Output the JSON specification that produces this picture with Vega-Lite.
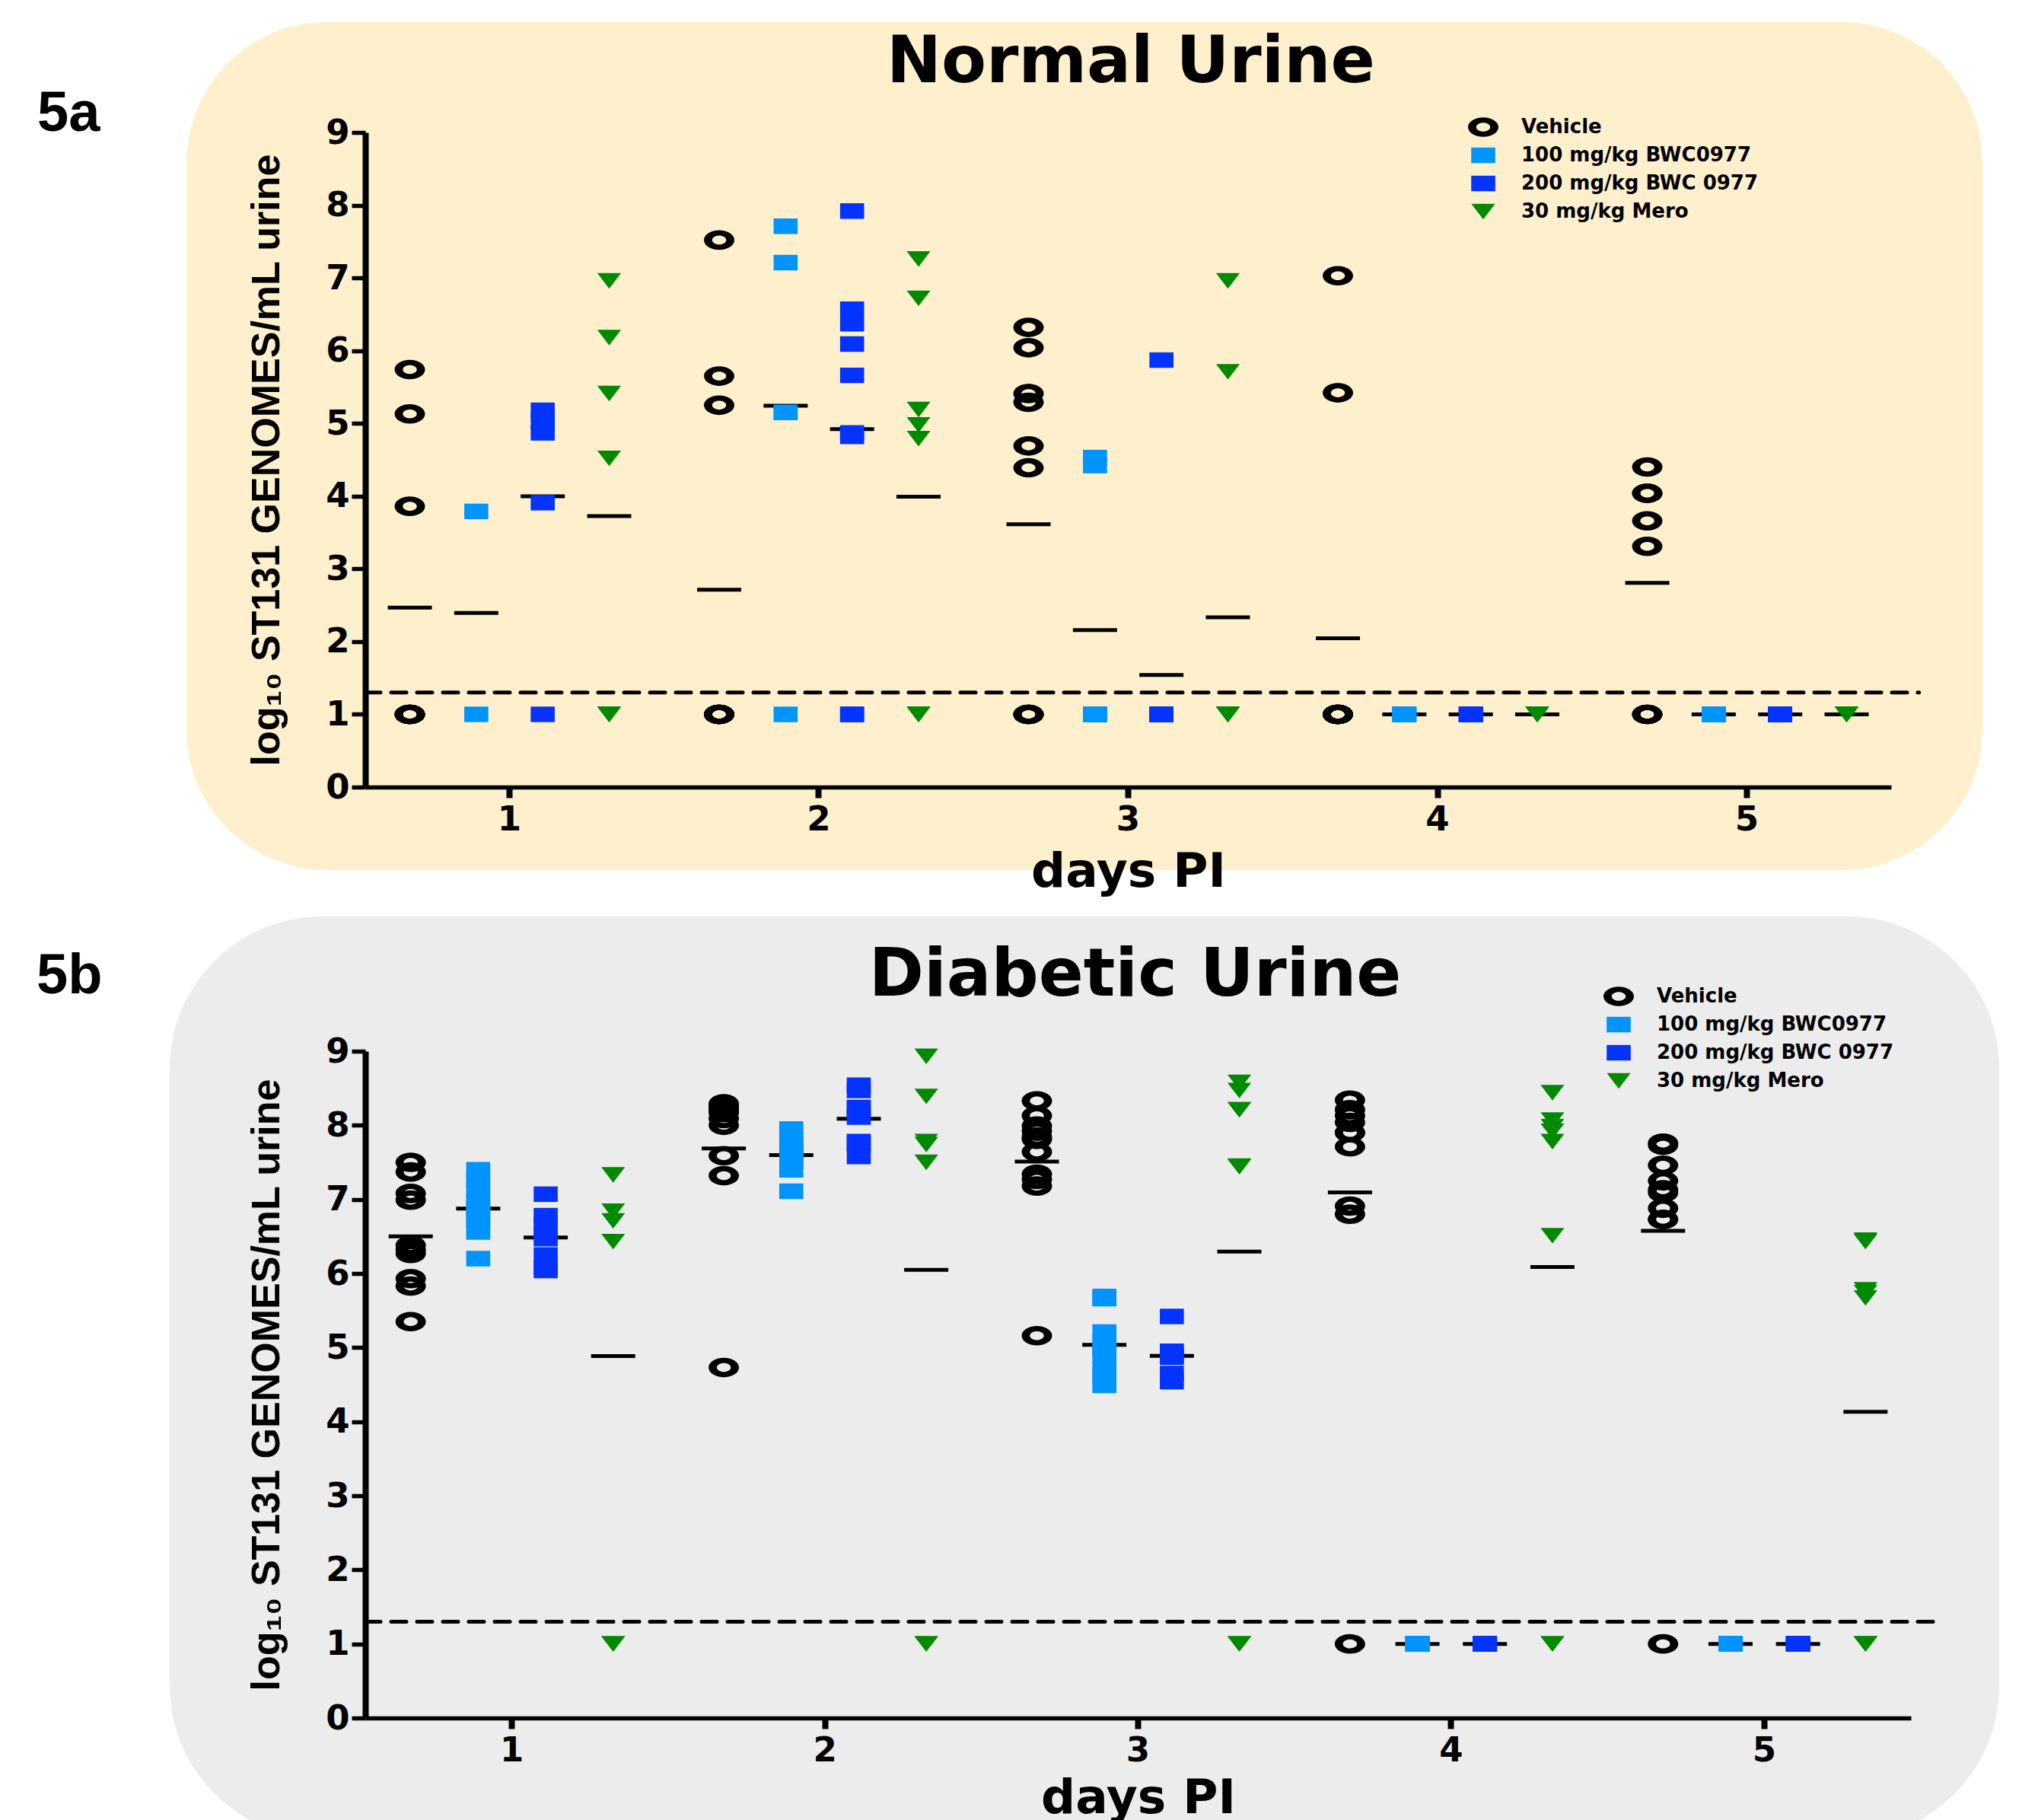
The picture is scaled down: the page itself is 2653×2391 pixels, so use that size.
{
  "$schema": "https://vega.github.io/schema/vega-lite/v6.json",
  "background": "white",
  "padding": {"left": 48, "top": 29, "right": 0, "bottom": 0},
  "bounds": "flush",
  "spacing": 347,
  "resolve": {
    "scale": {"x": "independent", "y": "independent", "xOffset": "independent"},
    "legend": {"color": "independent", "shape": "independent"}
  },
  "config": {
    "view": {"stroke": null},
    "font": "DejaVu Sans",
    "axis": {"domainColor": "black", "tickColor": "black", "labelColor": "black", "titleColor": "black", "labelFont": "DejaVu Sans", "labelFontSize": 45, "labelFontWeight": "bold", "grid": false, "labelOverlap": false, "labelFlush": false, "labelAngle": 0},
    "axisX": {"domainWidth": 5.5, "tickWidth": 8, "tickSize": 14, "labelPadding": 6, "titleFont": "DejaVu Sans", "titleFontSize": 63, "titleFontWeight": "bold", "titlePadding": 15},
    "axisY": {"domainWidth": 8, "tickWidth": 5.5, "tickSize": 18, "labelPadding": 3, "titleFont": "Liberation Sans", "titleFontSize": 52, "titleFontWeight": "bold", "titlePadding": 50},
    "legend": {"labelFont": "DejaVu Sans", "labelFontSize": 26, "labelFontWeight": "bold", "labelColor": "black", "symbolSize": 1600, "symbolStrokeWidth": 0, "rowPadding": 4, "labelOffset": 30, "labelLimit": 0, "zindex": 1}
  },
  "datasets": {
    "a": [
      {"day": 1, "group": "Vehicle", "v": 5.74}, {"day": 1, "group": "Vehicle", "v": 5.13}, {"day": 1, "group": "Vehicle", "v": 3.86}, {"day": 1, "group": "Vehicle", "v": 1}, {"day": 1, "group": "Vehicle", "v": 1}, {"day": 1, "group": "Vehicle", "v": 1}, {"day": 1, "group": "Vehicle", "v": 1}, {"day": 1, "group": "Vehicle", "v": 1},
      {"day": 1, "group": "100 mg/kg BWC0977", "v": 3.79}, {"day": 1, "group": "100 mg/kg BWC0977", "v": 1},
      {"day": 1, "group": "200 mg/kg BWC 0977", "v": 5.18}, {"day": 1, "group": "200 mg/kg BWC 0977", "v": 5.03}, {"day": 1, "group": "200 mg/kg BWC 0977", "v": 4.87}, {"day": 1, "group": "200 mg/kg BWC 0977", "v": 3.91}, {"day": 1, "group": "200 mg/kg BWC 0977", "v": 1},
      {"day": 1, "group": "30 mg/kg Mero", "v": 6.96}, {"day": 1, "group": "30 mg/kg Mero", "v": 6.18}, {"day": 1, "group": "30 mg/kg Mero", "v": 5.41}, {"day": 1, "group": "30 mg/kg Mero", "v": 4.52}, {"day": 1, "group": "30 mg/kg Mero", "v": 1}, {"day": 1, "group": "30 mg/kg Mero", "v": 1}, {"day": 1, "group": "30 mg/kg Mero", "v": 1},
      {"day": 2, "group": "Vehicle", "v": 7.52}, {"day": 2, "group": "Vehicle", "v": 5.65}, {"day": 2, "group": "Vehicle", "v": 5.25}, {"day": 2, "group": "Vehicle", "v": 1}, {"day": 2, "group": "Vehicle", "v": 1}, {"day": 2, "group": "Vehicle", "v": 1}, {"day": 2, "group": "Vehicle", "v": 1}, {"day": 2, "group": "Vehicle", "v": 1}, {"day": 2, "group": "Vehicle", "v": 1},
      {"day": 2, "group": "100 mg/kg BWC0977", "v": 7.71}, {"day": 2, "group": "100 mg/kg BWC0977", "v": 7.21}, {"day": 2, "group": "100 mg/kg BWC0977", "v": 5.15}, {"day": 2, "group": "100 mg/kg BWC0977", "v": 5.15}, {"day": 2, "group": "100 mg/kg BWC0977", "v": 1},
      {"day": 2, "group": "200 mg/kg BWC 0977", "v": 7.92}, {"day": 2, "group": "200 mg/kg BWC 0977", "v": 6.57}, {"day": 2, "group": "200 mg/kg BWC 0977", "v": 6.37}, {"day": 2, "group": "200 mg/kg BWC 0977", "v": 6.09}, {"day": 2, "group": "200 mg/kg BWC 0977", "v": 5.66}, {"day": 2, "group": "200 mg/kg BWC 0977", "v": 4.87}, {"day": 2, "group": "200 mg/kg BWC 0977", "v": 4.82}, {"day": 2, "group": "200 mg/kg BWC 0977", "v": 1}, {"day": 2, "group": "200 mg/kg BWC 0977", "v": 1},
      {"day": 2, "group": "30 mg/kg Mero", "v": 7.26}, {"day": 2, "group": "30 mg/kg Mero", "v": 6.72}, {"day": 2, "group": "30 mg/kg Mero", "v": 5.19}, {"day": 2, "group": "30 mg/kg Mero", "v": 4.98}, {"day": 2, "group": "30 mg/kg Mero", "v": 4.79}, {"day": 2, "group": "30 mg/kg Mero", "v": 1}, {"day": 2, "group": "30 mg/kg Mero", "v": 1}, {"day": 2, "group": "30 mg/kg Mero", "v": 1},
      {"day": 3, "group": "Vehicle", "v": 6.32}, {"day": 3, "group": "Vehicle", "v": 6.04}, {"day": 3, "group": "Vehicle", "v": 5.41}, {"day": 3, "group": "Vehicle", "v": 5.29}, {"day": 3, "group": "Vehicle", "v": 4.69}, {"day": 3, "group": "Vehicle", "v": 4.39}, {"day": 3, "group": "Vehicle", "v": 1}, {"day": 3, "group": "Vehicle", "v": 1}, {"day": 3, "group": "Vehicle", "v": 1}, {"day": 3, "group": "Vehicle", "v": 1},
      {"day": 3, "group": "100 mg/kg BWC0977", "v": 4.53}, {"day": 3, "group": "100 mg/kg BWC0977", "v": 4.42}, {"day": 3, "group": "100 mg/kg BWC0977", "v": 1}, {"day": 3, "group": "100 mg/kg BWC0977", "v": 1}, {"day": 3, "group": "100 mg/kg BWC0977", "v": 1}, {"day": 3, "group": "100 mg/kg BWC0977", "v": 1},
      {"day": 3, "group": "200 mg/kg BWC 0977", "v": 5.87}, {"day": 3, "group": "200 mg/kg BWC 0977", "v": 1}, {"day": 3, "group": "200 mg/kg BWC 0977", "v": 1}, {"day": 3, "group": "200 mg/kg BWC 0977", "v": 1}, {"day": 3, "group": "200 mg/kg BWC 0977", "v": 1}, {"day": 3, "group": "200 mg/kg BWC 0977", "v": 1}, {"day": 3, "group": "200 mg/kg BWC 0977", "v": 1}, {"day": 3, "group": "200 mg/kg BWC 0977", "v": 1}, {"day": 3, "group": "200 mg/kg BWC 0977", "v": 1},
      {"day": 3, "group": "30 mg/kg Mero", "v": 6.96}, {"day": 3, "group": "30 mg/kg Mero", "v": 5.71}, {"day": 3, "group": "30 mg/kg Mero", "v": 1}, {"day": 3, "group": "30 mg/kg Mero", "v": 1}, {"day": 3, "group": "30 mg/kg Mero", "v": 1}, {"day": 3, "group": "30 mg/kg Mero", "v": 1}, {"day": 3, "group": "30 mg/kg Mero", "v": 1}, {"day": 3, "group": "30 mg/kg Mero", "v": 1},
      {"day": 4, "group": "Vehicle", "v": 7.03}, {"day": 4, "group": "Vehicle", "v": 5.42}, {"day": 4, "group": "Vehicle", "v": 1}, {"day": 4, "group": "Vehicle", "v": 1}, {"day": 4, "group": "Vehicle", "v": 1}, {"day": 4, "group": "Vehicle", "v": 1}, {"day": 4, "group": "Vehicle", "v": 1}, {"day": 4, "group": "Vehicle", "v": 1}, {"day": 4, "group": "Vehicle", "v": 1}, {"day": 4, "group": "Vehicle", "v": 1},
      {"day": 4, "group": "100 mg/kg BWC0977", "v": 1}, {"day": 4, "group": "100 mg/kg BWC0977", "v": 1}, {"day": 4, "group": "100 mg/kg BWC0977", "v": 1}, {"day": 4, "group": "100 mg/kg BWC0977", "v": 1}, {"day": 4, "group": "100 mg/kg BWC0977", "v": 1},
      {"day": 4, "group": "200 mg/kg BWC 0977", "v": 1}, {"day": 4, "group": "200 mg/kg BWC 0977", "v": 1}, {"day": 4, "group": "200 mg/kg BWC 0977", "v": 1}, {"day": 4, "group": "200 mg/kg BWC 0977", "v": 1}, {"day": 4, "group": "200 mg/kg BWC 0977", "v": 1},
      {"day": 4, "group": "30 mg/kg Mero", "v": 1}, {"day": 4, "group": "30 mg/kg Mero", "v": 1}, {"day": 4, "group": "30 mg/kg Mero", "v": 1}, {"day": 4, "group": "30 mg/kg Mero", "v": 1}, {"day": 4, "group": "30 mg/kg Mero", "v": 1},
      {"day": 5, "group": "Vehicle", "v": 4.40}, {"day": 5, "group": "Vehicle", "v": 4.04}, {"day": 5, "group": "Vehicle", "v": 4.04}, {"day": 5, "group": "Vehicle", "v": 3.66}, {"day": 5, "group": "Vehicle", "v": 3.31}, {"day": 5, "group": "Vehicle", "v": 1}, {"day": 5, "group": "Vehicle", "v": 1}, {"day": 5, "group": "Vehicle", "v": 1},
      {"day": 5, "group": "100 mg/kg BWC0977", "v": 1}, {"day": 5, "group": "100 mg/kg BWC0977", "v": 1}, {"day": 5, "group": "100 mg/kg BWC0977", "v": 1}, {"day": 5, "group": "100 mg/kg BWC0977", "v": 1}, {"day": 5, "group": "100 mg/kg BWC0977", "v": 1},
      {"day": 5, "group": "200 mg/kg BWC 0977", "v": 1}, {"day": 5, "group": "200 mg/kg BWC 0977", "v": 1}, {"day": 5, "group": "200 mg/kg BWC 0977", "v": 1}, {"day": 5, "group": "200 mg/kg BWC 0977", "v": 1}, {"day": 5, "group": "200 mg/kg BWC 0977", "v": 1},
      {"day": 5, "group": "30 mg/kg Mero", "v": 1}, {"day": 5, "group": "30 mg/kg Mero", "v": 1}, {"day": 5, "group": "30 mg/kg Mero", "v": 1}, {"day": 5, "group": "30 mg/kg Mero", "v": 1}, {"day": 5, "group": "30 mg/kg Mero", "v": 1}
    ],
    "b": [
      {"day": 1, "group": "Vehicle", "v": 7.50}, {"day": 1, "group": "Vehicle", "v": 7.37}, {"day": 1, "group": "Vehicle", "v": 7.08}, {"day": 1, "group": "Vehicle", "v": 6.99}, {"day": 1, "group": "Vehicle", "v": 6.38}, {"day": 1, "group": "Vehicle", "v": 6.32}, {"day": 1, "group": "Vehicle", "v": 6.27}, {"day": 1, "group": "Vehicle", "v": 5.93}, {"day": 1, "group": "Vehicle", "v": 5.83}, {"day": 1, "group": "Vehicle", "v": 5.35},
      {"day": 1, "group": "100 mg/kg BWC0977", "v": 7.40}, {"day": 1, "group": "100 mg/kg BWC0977", "v": 7.26}, {"day": 1, "group": "100 mg/kg BWC0977", "v": 7.13}, {"day": 1, "group": "100 mg/kg BWC0977", "v": 6.96}, {"day": 1, "group": "100 mg/kg BWC0977", "v": 6.89}, {"day": 1, "group": "100 mg/kg BWC0977", "v": 6.77}, {"day": 1, "group": "100 mg/kg BWC0977", "v": 6.71}, {"day": 1, "group": "100 mg/kg BWC0977", "v": 6.56}, {"day": 1, "group": "100 mg/kg BWC0977", "v": 6.20},
      {"day": 1, "group": "200 mg/kg BWC 0977", "v": 7.07}, {"day": 1, "group": "200 mg/kg BWC 0977", "v": 6.78}, {"day": 1, "group": "200 mg/kg BWC 0977", "v": 6.67}, {"day": 1, "group": "200 mg/kg BWC 0977", "v": 6.53}, {"day": 1, "group": "200 mg/kg BWC 0977", "v": 6.47}, {"day": 1, "group": "200 mg/kg BWC 0977", "v": 6.25}, {"day": 1, "group": "200 mg/kg BWC 0977", "v": 6.08}, {"day": 1, "group": "200 mg/kg BWC 0977", "v": 6.04},
      {"day": 1, "group": "30 mg/kg Mero", "v": 7.33}, {"day": 1, "group": "30 mg/kg Mero", "v": 6.84}, {"day": 1, "group": "30 mg/kg Mero", "v": 6.71}, {"day": 1, "group": "30 mg/kg Mero", "v": 6.43}, {"day": 1, "group": "30 mg/kg Mero", "v": 1}, {"day": 1, "group": "30 mg/kg Mero", "v": 1},
      {"day": 2, "group": "Vehicle", "v": 8.29}, {"day": 2, "group": "Vehicle", "v": 8.26}, {"day": 2, "group": "Vehicle", "v": 8.23}, {"day": 2, "group": "Vehicle", "v": 8.20}, {"day": 2, "group": "Vehicle", "v": 8.17}, {"day": 2, "group": "Vehicle", "v": 8.09}, {"day": 2, "group": "Vehicle", "v": 8.00}, {"day": 2, "group": "Vehicle", "v": 7.59}, {"day": 2, "group": "Vehicle", "v": 7.32}, {"day": 2, "group": "Vehicle", "v": 4.73},
      {"day": 2, "group": "100 mg/kg BWC0977", "v": 7.95}, {"day": 2, "group": "100 mg/kg BWC0977", "v": 7.80}, {"day": 2, "group": "100 mg/kg BWC0977", "v": 7.73}, {"day": 2, "group": "100 mg/kg BWC0977", "v": 7.66}, {"day": 2, "group": "100 mg/kg BWC0977", "v": 7.62}, {"day": 2, "group": "100 mg/kg BWC0977", "v": 7.51}, {"day": 2, "group": "100 mg/kg BWC0977", "v": 7.40}, {"day": 2, "group": "100 mg/kg BWC0977", "v": 7.11},
      {"day": 2, "group": "200 mg/kg BWC 0977", "v": 8.54}, {"day": 2, "group": "200 mg/kg BWC 0977", "v": 8.47}, {"day": 2, "group": "200 mg/kg BWC 0977", "v": 8.24}, {"day": 2, "group": "200 mg/kg BWC 0977", "v": 8.23}, {"day": 2, "group": "200 mg/kg BWC 0977", "v": 8.11}, {"day": 2, "group": "200 mg/kg BWC 0977", "v": 7.78}, {"day": 2, "group": "200 mg/kg BWC 0977", "v": 7.75}, {"day": 2, "group": "200 mg/kg BWC 0977", "v": 7.58},
      {"day": 2, "group": "30 mg/kg Mero", "v": 8.93}, {"day": 2, "group": "30 mg/kg Mero", "v": 8.39}, {"day": 2, "group": "30 mg/kg Mero", "v": 7.78}, {"day": 2, "group": "30 mg/kg Mero", "v": 7.74}, {"day": 2, "group": "30 mg/kg Mero", "v": 7.50}, {"day": 2, "group": "30 mg/kg Mero", "v": 1}, {"day": 2, "group": "30 mg/kg Mero", "v": 1},
      {"day": 3, "group": "Vehicle", "v": 8.33}, {"day": 3, "group": "Vehicle", "v": 8.13}, {"day": 3, "group": "Vehicle", "v": 7.99}, {"day": 3, "group": "Vehicle", "v": 7.92}, {"day": 3, "group": "Vehicle", "v": 7.84}, {"day": 3, "group": "Vehicle", "v": 7.81}, {"day": 3, "group": "Vehicle", "v": 7.64}, {"day": 3, "group": "Vehicle", "v": 7.34}, {"day": 3, "group": "Vehicle", "v": 7.27}, {"day": 3, "group": "Vehicle", "v": 7.18}, {"day": 3, "group": "Vehicle", "v": 5.16},
      {"day": 3, "group": "100 mg/kg BWC0977", "v": 5.69}, {"day": 3, "group": "100 mg/kg BWC0977", "v": 5.66}, {"day": 3, "group": "100 mg/kg BWC0977", "v": 5.21}, {"day": 3, "group": "100 mg/kg BWC0977", "v": 5.06}, {"day": 3, "group": "100 mg/kg BWC0977", "v": 4.98}, {"day": 3, "group": "100 mg/kg BWC0977", "v": 4.90}, {"day": 3, "group": "100 mg/kg BWC0977", "v": 4.70}, {"day": 3, "group": "100 mg/kg BWC0977", "v": 4.64}, {"day": 3, "group": "100 mg/kg BWC0977", "v": 4.49},
      {"day": 3, "group": "200 mg/kg BWC 0977", "v": 5.42}, {"day": 3, "group": "200 mg/kg BWC 0977", "v": 4.95}, {"day": 3, "group": "200 mg/kg BWC 0977", "v": 4.90}, {"day": 3, "group": "200 mg/kg BWC 0977", "v": 4.87}, {"day": 3, "group": "200 mg/kg BWC 0977", "v": 4.65}, {"day": 3, "group": "200 mg/kg BWC 0977", "v": 4.54},
      {"day": 3, "group": "30 mg/kg Mero", "v": 8.58}, {"day": 3, "group": "30 mg/kg Mero", "v": 8.47}, {"day": 3, "group": "30 mg/kg Mero", "v": 8.21}, {"day": 3, "group": "30 mg/kg Mero", "v": 8.21}, {"day": 3, "group": "30 mg/kg Mero", "v": 7.45}, {"day": 3, "group": "30 mg/kg Mero", "v": 7.44}, {"day": 3, "group": "30 mg/kg Mero", "v": 1}, {"day": 3, "group": "30 mg/kg Mero", "v": 1},
      {"day": 4, "group": "Vehicle", "v": 8.34}, {"day": 4, "group": "Vehicle", "v": 8.21}, {"day": 4, "group": "Vehicle", "v": 8.13}, {"day": 4, "group": "Vehicle", "v": 8.04}, {"day": 4, "group": "Vehicle", "v": 7.90}, {"day": 4, "group": "Vehicle", "v": 7.90}, {"day": 4, "group": "Vehicle", "v": 7.71}, {"day": 4, "group": "Vehicle", "v": 6.91}, {"day": 4, "group": "Vehicle", "v": 6.80}, {"day": 4, "group": "Vehicle", "v": 1},
      {"day": 4, "group": "100 mg/kg BWC0977", "v": 1}, {"day": 4, "group": "100 mg/kg BWC0977", "v": 1}, {"day": 4, "group": "100 mg/kg BWC0977", "v": 1}, {"day": 4, "group": "100 mg/kg BWC0977", "v": 1}, {"day": 4, "group": "100 mg/kg BWC0977", "v": 1}, {"day": 4, "group": "100 mg/kg BWC0977", "v": 1}, {"day": 4, "group": "100 mg/kg BWC0977", "v": 1}, {"day": 4, "group": "100 mg/kg BWC0977", "v": 1},
      {"day": 4, "group": "200 mg/kg BWC 0977", "v": 1}, {"day": 4, "group": "200 mg/kg BWC 0977", "v": 1}, {"day": 4, "group": "200 mg/kg BWC 0977", "v": 1}, {"day": 4, "group": "200 mg/kg BWC 0977", "v": 1}, {"day": 4, "group": "200 mg/kg BWC 0977", "v": 1}, {"day": 4, "group": "200 mg/kg BWC 0977", "v": 1}, {"day": 4, "group": "200 mg/kg BWC 0977", "v": 1}, {"day": 4, "group": "200 mg/kg BWC 0977", "v": 1},
      {"day": 4, "group": "30 mg/kg Mero", "v": 8.44}, {"day": 4, "group": "30 mg/kg Mero", "v": 8.07}, {"day": 4, "group": "30 mg/kg Mero", "v": 7.98}, {"day": 4, "group": "30 mg/kg Mero", "v": 7.92}, {"day": 4, "group": "30 mg/kg Mero", "v": 7.78}, {"day": 4, "group": "30 mg/kg Mero", "v": 6.51}, {"day": 4, "group": "30 mg/kg Mero", "v": 1}, {"day": 4, "group": "30 mg/kg Mero", "v": 1},
      {"day": 5, "group": "Vehicle", "v": 7.76}, {"day": 5, "group": "Vehicle", "v": 7.73}, {"day": 5, "group": "Vehicle", "v": 7.46}, {"day": 5, "group": "Vehicle", "v": 7.25}, {"day": 5, "group": "Vehicle", "v": 7.13}, {"day": 5, "group": "Vehicle", "v": 7.09}, {"day": 5, "group": "Vehicle", "v": 6.88}, {"day": 5, "group": "Vehicle", "v": 6.73}, {"day": 5, "group": "Vehicle", "v": 6.73}, {"day": 5, "group": "Vehicle", "v": 1},
      {"day": 5, "group": "100 mg/kg BWC0977", "v": 1}, {"day": 5, "group": "100 mg/kg BWC0977", "v": 1}, {"day": 5, "group": "100 mg/kg BWC0977", "v": 1}, {"day": 5, "group": "100 mg/kg BWC0977", "v": 1}, {"day": 5, "group": "100 mg/kg BWC0977", "v": 1}, {"day": 5, "group": "100 mg/kg BWC0977", "v": 1}, {"day": 5, "group": "100 mg/kg BWC0977", "v": 1}, {"day": 5, "group": "100 mg/kg BWC0977", "v": 1},
      {"day": 5, "group": "200 mg/kg BWC 0977", "v": 1}, {"day": 5, "group": "200 mg/kg BWC 0977", "v": 1}, {"day": 5, "group": "200 mg/kg BWC 0977", "v": 1}, {"day": 5, "group": "200 mg/kg BWC 0977", "v": 1}, {"day": 5, "group": "200 mg/kg BWC 0977", "v": 1}, {"day": 5, "group": "200 mg/kg BWC 0977", "v": 1}, {"day": 5, "group": "200 mg/kg BWC 0977", "v": 1}, {"day": 5, "group": "200 mg/kg BWC 0977", "v": 1},
      {"day": 5, "group": "30 mg/kg Mero", "v": 6.43}, {"day": 5, "group": "30 mg/kg Mero", "v": 6.45}, {"day": 5, "group": "30 mg/kg Mero", "v": 5.67}, {"day": 5, "group": "30 mg/kg Mero", "v": 5.74}, {"day": 5, "group": "30 mg/kg Mero", "v": 5.78}, {"day": 5, "group": "30 mg/kg Mero", "v": 1}, {"day": 5, "group": "30 mg/kg Mero", "v": 1}, {"day": 5, "group": "30 mg/kg Mero", "v": 1}
    ]
  },
  "vconcat": [
    {
      "width": 2005,
      "height": 860,
      "resolve": {"scale": {"x": "independent", "xOffset": "independent"}},
      "layer": [
        {
          "data": {"values": [{}]},
          "mark": {"type": "rect", "cornerRadius": 185, "fill": "#FEF0CD"},
          "encoding": {
            "x": {"datum": -0.0406, "type": "quantitative", "scale": {"domain": [0.5375, 5.47], "nice": false, "zero": false}, "axis": null},
            "x2": {"datum": 5.765},
            "y": {"datum": -1.141, "type": "quantitative", "scale": {"domain": [0, 9], "nice": false, "zero": false}},
            "y2": {"datum": 10.517}
          }
        },
        {
          "data": {"values": [{}]},
          "mark": {"type": "rule", "strokeDash": [20, 14], "strokeWidth": 5, "strokeCap": "round", "color": "black"},
          "encoding": {"x": {"datum": 0.5375, "type": "quantitative", "scale": {"domain": [0.5375, 5.47], "nice": false, "zero": false}, "axis": null}, "x2": {"datum": 5.56}, "y": {"datum": 1.3, "type": "quantitative"}}
        },
        {
          "data": {"name": "a"},
          "mark": {"type": "tick", "orient": "horizontal", "size": 58, "thickness": 5, "color": "black", "opacity": 1},
          "encoding": {
            "x": {"field": "day", "type": "ordinal", "scale": {"type": "band", "domain": [1, 2, 3, 4, 5], "paddingInner": 0.0677, "paddingOuter": 0}, "axis": null},
            "xOffset": {"field": "group", "type": "nominal", "scale": {"type": "point", "domain": ["Vehicle", "100 mg/kg BWC0977", "200 mg/kg BWC 0977", "30 mg/kg Mero"], "padding": 0.67}},
            "y": {"aggregate": "mean", "field": "v", "type": "quantitative", "title": "log₁₀ ST131 GENOMES/mL urine"}
          }
        },
        {
          "data": {"name": "a"},
          "mark": {"type": "point", "filled": true, "size": 1600, "opacity": 1, "strokeWidth": 0},
          "encoding": {
            "x": {"field": "day", "type": "ordinal", "scale": {"type": "band", "domain": [1, 2, 3, 4, 5], "paddingInner": 0.0677, "paddingOuter": 0}, "axis": {"title": "days PI", "zindex": 1}},
            "xOffset": {"field": "group", "type": "nominal", "scale": {"type": "point", "domain": ["Vehicle", "100 mg/kg BWC0977", "200 mg/kg BWC 0977", "30 mg/kg Mero"], "padding": 0.67}},
            "y": {"field": "v", "type": "quantitative", "scale": {"domain": [0, 9], "nice": false, "zero": false}, "axis": {"values": [0, 1, 2, 3, 4, 5, 6, 7, 8, 9], "format": "d", "title": "log₁₀ ST131 GENOMES/mL urine", "zindex": 1}},
            "color": {"field": "group", "type": "nominal", "scale": {"domain": ["Vehicle", "100 mg/kg BWC0977", "200 mg/kg BWC 0977", "30 mg/kg Mero"], "range": ["#000000", "#0094FF", "#0433FF", "#008A00"]}, "legend": {"title": null, "orient": "none", "legendX": 1449, "legendY": -27}},
            "shape": {"field": "group", "type": "nominal", "scale": {"domain": ["Vehicle", "100 mg/kg BWC0977", "200 mg/kg BWC 0977", "30 mg/kg Mero"], "range": ["M-1,0A1,0.64,0,1,1,1,0A1,0.64,0,1,1,-1,0ZM-0.46,0A0.46,0.29,0,1,0,0.46,0A0.46,0.29,0,1,0,-0.46,0Z", "M-0.79,-0.51H0.79V0.51H-0.79Z", "M-0.79,-0.51H0.79V0.51H-0.79Z", "M-0.78,-0.51H0.78L0,0.51Z"]}, "legend": {"title": null, "orient": "none", "legendX": 1449, "legendY": -27}}
          }
        },
        {
          "data": {"values": [{"label": "5a", "title": "Normal Urine"}]},
          "encoding": {"y": {"type": "quantitative"}},
          "layer": [
            {
              "mark": {"type": "text", "font": "Liberation Sans", "fontSize": 74, "fontWeight": "bold", "align": "left", "baseline": "alphabetic", "color": "black"},
              "encoding": {"text": {"field": "label"}, "x": {"datum": -0.5228, "type": "quantitative", "scale": {"domain": [0.5375, 5.47], "nice": false, "zero": false}, "axis": null}, "y": {"datum": 9.02, "type": "quantitative"}}
            },
            {
              "mark": {"type": "text", "font": "DejaVu Sans", "fontSize": 86, "fontWeight": "bold", "align": "center", "baseline": "alphabetic", "color": "black"},
              "encoding": {"text": {"field": "title"}, "x": {"datum": 3.012, "type": "quantitative", "scale": {"domain": [0.5375, 5.47], "nice": false, "zero": false}, "axis": null}, "y": {"datum": 9.69, "type": "quantitative"}}
            }
          ]
        }
      ]
    },
    {
      "width": 2031,
      "height": 876,
      "resolve": {"scale": {"x": "independent", "xOffset": "independent"}},
      "layer": [
        {
          "data": {"values": [{}]},
          "mark": {"type": "rect", "cornerRadius": 200, "fill": "#ECECEC"},
          "encoding": {
            "x": {"datum": -0.0902, "type": "quantitative", "scale": {"domain": [0.5345, 5.4728], "nice": false, "zero": false}, "axis": null},
            "x2": {"datum": 5.755},
            "y": {"datum": -1.623, "type": "quantitative", "scale": {"domain": [0, 9], "nice": false, "zero": false}},
            "y2": {"datum": 10.819}
          }
        },
        {
          "data": {"values": [{}]},
          "mark": {"type": "rule", "strokeDash": [20, 14], "strokeWidth": 5, "strokeCap": "round", "color": "black"},
          "encoding": {"x": {"datum": 0.5345, "type": "quantitative", "scale": {"domain": [0.5345, 5.4728], "nice": false, "zero": false}, "axis": null}, "x2": {"datum": 5.56}, "y": {"datum": 1.3, "type": "quantitative"}}
        },
        {
          "data": {"name": "b"},
          "mark": {"type": "tick", "orient": "horizontal", "size": 58, "thickness": 5, "color": "black", "opacity": 1},
          "encoding": {
            "x": {"field": "day", "type": "ordinal", "scale": {"type": "band", "domain": [1, 2, 3, 4, 5], "paddingInner": 0.0632, "paddingOuter": 0}, "axis": null},
            "xOffset": {"field": "group", "type": "nominal", "scale": {"type": "point", "domain": ["Vehicle", "100 mg/kg BWC0977", "200 mg/kg BWC 0977", "30 mg/kg Mero"], "padding": 0.673}},
            "y": {"aggregate": "mean", "field": "v", "type": "quantitative", "title": "log₁₀ ST131 GENOMES/mL urine"}
          }
        },
        {
          "data": {"name": "b"},
          "mark": {"type": "point", "filled": true, "size": 1600, "opacity": 1, "strokeWidth": 0},
          "encoding": {
            "x": {"field": "day", "type": "ordinal", "scale": {"type": "band", "domain": [1, 2, 3, 4, 5], "paddingInner": 0.0632, "paddingOuter": 0}, "axis": {"title": "days PI", "titlePadding": 9, "zindex": 1}},
            "xOffset": {"field": "group", "type": "nominal", "scale": {"type": "point", "domain": ["Vehicle", "100 mg/kg BWC0977", "200 mg/kg BWC 0977", "30 mg/kg Mero"], "padding": 0.673}},
            "y": {"field": "v", "type": "quantitative", "scale": {"domain": [0, 9], "nice": false, "zero": false}, "axis": {"values": [0, 1, 2, 3, 4, 5, 6, 7, 8, 9], "format": "d", "title": "log₁₀ ST131 GENOMES/mL urine", "zindex": 1}},
            "color": {"field": "group", "type": "nominal", "scale": {"domain": ["Vehicle", "100 mg/kg BWC0977", "200 mg/kg BWC 0977", "30 mg/kg Mero"], "range": ["#000000", "#0094FF", "#0433FF", "#008A00"]}, "legend": {"title": null, "orient": "none", "legendX": 1627, "legendY": -92}},
            "shape": {"field": "group", "type": "nominal", "scale": {"domain": ["Vehicle", "100 mg/kg BWC0977", "200 mg/kg BWC 0977", "30 mg/kg Mero"], "range": ["M-1,0A1,0.64,0,1,1,1,0A1,0.64,0,1,1,-1,0ZM-0.46,0A0.46,0.29,0,1,0,0.46,0A0.46,0.29,0,1,0,-0.46,0Z", "M-0.79,-0.51H0.79V0.51H-0.79Z", "M-0.79,-0.51H0.79V0.51H-0.79Z", "M-0.78,-0.51H0.78L0,0.51Z"]}, "legend": {"title": null, "orient": "none", "legendX": 1627, "legendY": -92}}
          }
        },
        {
          "data": {"values": [{"label": "5b", "title": "Diabetic Urine"}]},
          "encoding": {"y": {"type": "quantitative"}},
          "layer": [
            {
              "mark": {"type": "text", "font": "Liberation Sans", "fontSize": 74, "fontWeight": "bold", "align": "left", "baseline": "alphabetic", "color": "black"},
              "encoding": {"text": {"field": "label"}, "x": {"datum": -0.5156, "type": "quantitative", "scale": {"domain": [0.5345, 5.4728], "nice": false, "zero": false}, "axis": null}, "y": {"datum": 9.78, "type": "quantitative"}}
            },
            {
              "mark": {"type": "text", "font": "DejaVu Sans", "fontSize": 87, "fontWeight": "bold", "align": "center", "baseline": "alphabetic", "color": "black"},
              "encoding": {"text": {"field": "title"}, "x": {"datum": 2.994, "type": "quantitative", "scale": {"domain": [0.5345, 5.4728], "nice": false, "zero": false}, "axis": null}, "y": {"datum": 9.75, "type": "quantitative"}}
            }
          ]
        }
      ]
    }
  ]
}
